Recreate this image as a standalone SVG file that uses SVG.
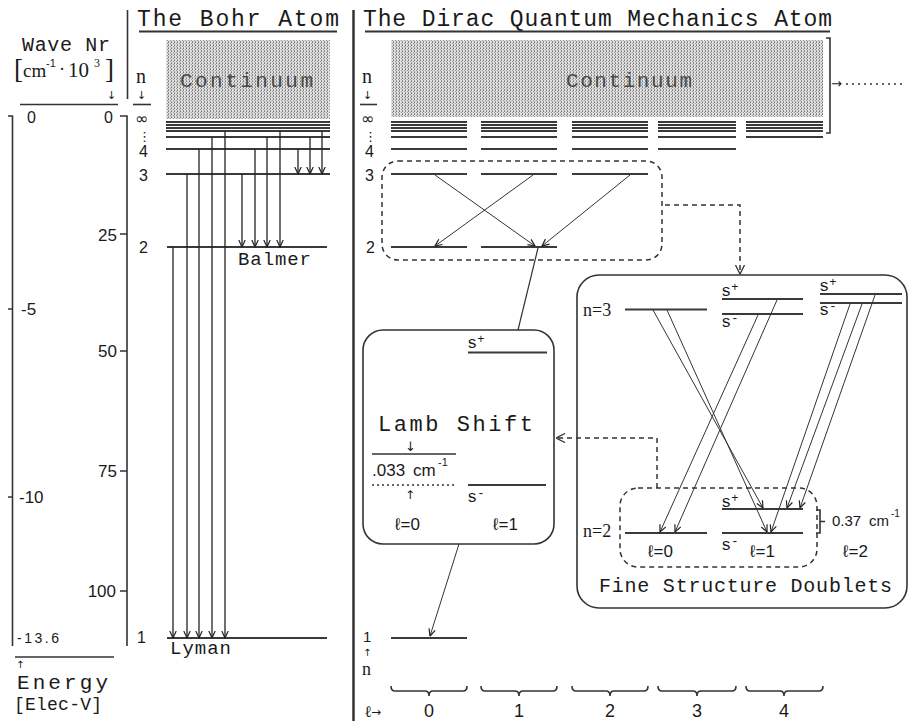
<svg xmlns="http://www.w3.org/2000/svg" width="910" height="721" viewBox="0 0 910 721">
<style>
.mono{font-family:"Liberation Mono","DejaVu Sans Mono",monospace;fill:#1a1a1a}
.sans{font-family:"Liberation Sans",Arial,sans-serif;fill:#1a1a1a}
.serif{font-family:"Liberation Serif","DejaVu Serif",serif;fill:#1a1a1a}
.sym{font-family:"DejaVu Sans","Liberation Sans",sans-serif;fill:#1a1a1a}
.ax{fill:none;stroke:#333;stroke-width:1.6}
.lv{stroke:#3a3a3a;stroke-width:2;fill:none}
.tr{stroke:#222;stroke-width:1.3;fill:none;marker-end:url(#ah)}
.tr2{stroke:#333;stroke-width:1;fill:none;marker-end:url(#ah)}
.box{fill:none;stroke:#333;stroke-width:1.6}
.dbox{fill:none;stroke:#333;stroke-width:1.5;stroke-dasharray:5 4}
.dcon{fill:none;stroke:#333;stroke-width:1.5;stroke-dasharray:5 4;marker-end:url(#ahd)}
.cont{fill:url(#dots)}
.ctext{font-family:"Liberation Mono","DejaVu Sans Mono",monospace;fill:#4a4a4a}
</style>
<defs>
<pattern id="dots" width="3" height="3" patternUnits="userSpaceOnUse">
<rect width="3" height="3" fill="#dedede"/>
<rect width="1" height="1" fill="#777"/>
<rect x="0" y="2" width="1" height="1" fill="#999"/>
<rect x="2" y="1" width="1" height="1" fill="#999"/>
</pattern>
<marker id="ah" markerUnits="userSpaceOnUse" markerWidth="8" markerHeight="8" viewBox="0 0 8 8" refX="7.5" refY="4" orient="auto">
<path d="M0.5,0.8 L7.5,4 L0.5,7.2" fill="none" stroke="#222" stroke-width="1.2"/>
</marker>
<marker id="ahd" markerUnits="userSpaceOnUse" markerWidth="10" markerHeight="10" viewBox="0 0 10 10" refX="9.5" refY="5" orient="auto">
<path d="M0.5,0.5 L9.5,5 L0.5,9.5" fill="none" stroke="#333" stroke-width="1.3"/>
</marker>
</defs>
<rect width="910" height="721" fill="#fff"/>

<g id="dividers">
<path class="ax" d="M127.5,10 V99"/>
<path d="M353.5,10 V721" stroke="#333" stroke-width="2.5"/>
</g>

<g id="title-bohr">
<text class="mono" x="137" y="26" font-size="23" textLength="202" lengthAdjust="spacing">The Bohr Atom</text>
<path d="M139,31.5 H337" stroke="#333" stroke-width="2"/>
</g>
<g id="title-dirac">
<text class="mono" x="363" y="26" font-size="23" textLength="469" lengthAdjust="spacing">The Dirac Quantum Mechanics Atom</text>
<path d="M365,31.5 H830" stroke="#333" stroke-width="2"/>
</g>

<g id="axis-wave">
<text class="mono" x="22" y="51" font-size="20" textLength="88" lengthAdjust="spacing">Wave Nr</text>
<text class="serif" y="78" font-size="19"><tspan x="14" font-size="27">[</tspan><tspan x="23" y="77">cm</tspan><tspan x="46" y="67" font-size="11" class="sans">-1</tspan><tspan x="59" y="75" font-size="18">·</tspan><tspan x="68" y="77" font-size="21">10</tspan><tspan x="94" y="67" font-size="12">3</tspan><tspan x="105" y="78" font-size="27">]</tspan></text>
<text class="sym" x="107" y="99" font-size="11">↓</text>
<path d="M20,104.5 H118" stroke="#333" stroke-width="1.6"/>
<text class="sans" x="113" y="123" font-size="16" text-anchor="end">0</text>
<path class="ax" d="M120,116 H127 V646"/>
<path class="ax" d="M120,234 H127 M120,351 H127 M120,471 H127 M120,591 H127"/>
<text class="sans" x="117" y="241" font-size="17" text-anchor="end">25</text>
<text class="sans" x="117" y="357" font-size="17" text-anchor="end">50</text>
<text class="sans" x="117" y="477" font-size="17" text-anchor="end">75</text>
<text class="sans" x="116" y="597" font-size="17" text-anchor="end">100</text>
</g>
<g id="axis-energy">
<text class="sans" x="27" y="123" font-size="16">0</text>
<path class="ax" d="M8,116 H12.5 V646"/>
<path class="ax" d="M8,309 H12.5 M8,497 H12.5"/>
<text class="sans" x="21" y="315" font-size="17">-5</text>
<text class="sans" x="19" y="503" font-size="17">-10</text>
<text class="sans" x="17" y="643" font-size="14" textLength="42" lengthAdjust="spacing">-13.6</text>
<path d="M15,657 H114" stroke="#333" stroke-width="1.6"/>
<text class="sym" x="16" y="668" font-size="10">↑</text>
<text class="mono" x="17" y="689" font-size="21" textLength="91" lengthAdjust="spacing">Energy</text>
<text class="mono" x="14" y="710" font-size="18" textLength="88" lengthAdjust="spacing">[Elec-V]</text>
</g>

<g id="bohr-continuum">
<rect class="cont" x="166" y="40" width="164" height="79"/>
<text class="ctext" x="180" y="87" font-size="21" textLength="133" lengthAdjust="spacing">Continuum</text>
</g>
<g id="bohr-levels">
<text class="serif" x="136" y="83" font-size="20">n</text>
<text class="sym" x="137" y="99" font-size="11">↓</text>
<path d="M133,104.5 H151" stroke="#333" stroke-width="1.6"/>
<text class="sym" x="135" y="124" font-size="16">∞</text>
<text class="sym" x="138" y="141" font-size="13">⋮</text>
<text class="sans" x="139" y="157" font-size="16">4</text>
<text class="sans" x="139" y="181" font-size="16">3</text>
<text class="sans" x="139" y="253" font-size="16">2</text>
<text class="sans" x="137" y="643" font-size="16">1</text>
<path class="lv" d="M166,122 H330 M166,125 H330 M166,128 H330 M166,131 H330 M166,137 H330 M166,149 H330 M166,174 H330 M167,247 H327 M167,638 H327"/>
<text class="mono" x="238" y="265" font-size="19" textLength="73" lengthAdjust="spacing">Balmer</text>
<text class="mono" x="170" y="654" font-size="19" textLength="61" lengthAdjust="spacing">Lyman</text>
</g>

<g id="dirac-continuum">
<rect class="cont" x="391" y="40" width="432" height="77"/>
<text class="ctext" x="566" y="87" font-size="21" textLength="126" lengthAdjust="spacing">Continuum</text>
<path class="ax" d="M826,38 H830 V133 H826"/>
<text class="sym" x="831" y="88" font-size="13">→</text>
<path d="M846,84 H906" stroke="#333" stroke-width="1.5" stroke-dasharray="2 4"/>
</g>
<g id="dirac-levels">
<text class="serif" x="362" y="83" font-size="20">n</text>
<text class="sym" x="363" y="99" font-size="11">↓</text>
<path d="M360,104.5 H377" stroke="#333" stroke-width="1.6"/>
<text class="sym" x="361" y="124" font-size="16">∞</text>
<text class="sym" x="364" y="141" font-size="13">⋮</text>
<text class="sans" x="365" y="157" font-size="16">4</text>
<text class="sans" x="365" y="181" font-size="16">3</text>
<text class="sans" x="366" y="253" font-size="16">2</text>
<text class="sans" x="363" y="642" font-size="15">1</text>
<text class="sym" x="363" y="656" font-size="10">↑</text>
<text class="serif" x="362" y="675" font-size="18">n</text>
<path class="lv" d="M391,122 H467 M481,122 H557 M572,122 H648 M658,122 H736 M746,122 H823
M391,125 H467 M481,125 H557 M572,125 H648 M658,125 H736 M746,125 H823
M391,128 H467 M481,128 H557 M572,128 H648 M658,128 H736 M746,128 H823
M391,131 H467 M481,131 H557 M572,131 H648 M658,131 H736 M746,131 H823
M391,137 H467 M481,137 H557 M572,137 H648 M658,137 H736 M746,137 H823
M391,149 H467 M481,149 H557 M572,149 H648 M658,149 H736
M391,174 H467 M481,174 H557 M572,174 H648
M391,247 H467 M481,247 H557
M391,638 H467"/>
</g>
<g id="box-n3-n2">
<rect class="dbox" x="382" y="161" width="280" height="99" rx="16"/>
</g>
<g id="l-axis">
<path class="ax" d="M391,686 Q391,691 395,691 H425 Q429,691 429,696 Q429,691 433,691 H463 Q467,691 467,686
M481,686 Q481,691 485,691 H515 Q519,691 519,696 Q519,691 523,691 H553 Q557,691 557,686
M572,686 Q572,691 576,691 H606 Q610,691 610,696 Q610,691 614,691 H644 Q648,691 648,686
M658,686 Q658,691 662,691 H693 Q697,691 697,696 Q697,691 701,691 H732 Q736,691 736,686
M746,686 Q746,691 750,691 H780 Q784,691 784,696 Q784,691 788,691 H819 Q823,691 823,686"/>
<text class="serif" x="364" y="717" font-size="16">ℓ<tspan class="sym" x="371" y="716" font-size="12">→</tspan></text>
<text class="sans" x="429" y="717" font-size="18" text-anchor="middle">0</text>
<text class="sans" x="519" y="717" font-size="18" text-anchor="middle">1</text>
<text class="sans" x="610" y="717" font-size="18" text-anchor="middle">2</text>
<text class="sans" x="697" y="717" font-size="18" text-anchor="middle">3</text>
<text class="sans" x="784" y="717" font-size="18" text-anchor="middle">4</text>
</g>

<g id="lamb-box">
<rect class="box" x="363" y="330" width="191" height="214" rx="20"/>
<text class="mono" x="467" y="348" font-size="17">s<tspan font-size="12" dy="-5">+</tspan></text>
<path class="lv" d="M468,352.5 H547"/>
<text class="mono" x="378" y="431" font-size="22" textLength="155" lengthAdjust="spacing">Lamb Shift</text>
<text class="sym" x="405" y="451" font-size="13">↓</text>
<path d="M372,454 H456" stroke="#333" stroke-width="1.6"/>
<text class="sans" x="372" y="476" font-size="17">.033<tspan x="413">cm</tspan><tspan x="438" y="466" font-size="11">-1</tspan></text>
<path d="M372,485 H455" stroke="#333" stroke-width="1.4" stroke-dasharray="2 3"/>
<text class="sym" x="405" y="499" font-size="12">↑</text>
<path class="lv" d="M468,485 H546"/>
<text class="mono" x="467" y="502" font-size="17">s<tspan font-size="12" dy="-5">-</tspan></text>
<text class="sans" x="395" y="530" font-size="17">ℓ=0</text>
<text class="sans" x="493" y="530" font-size="17">ℓ=1</text>
</g>

<g id="fs-box">
<rect class="box" x="577" y="275" width="330" height="333" rx="22"/>
<text class="serif" x="583" y="316" font-size="18">n=3</text>
<path class="lv" d="M625,309.5 H707 M722,299 H803 M722,314 H803 M820,294 H902 M820,303 H902"/>
<text class="mono" x="721" y="296" font-size="17">s<tspan font-size="12" dy="-5">+</tspan></text>
<text class="mono" x="721" y="327" font-size="17">s<tspan font-size="12" dy="-5">-</tspan></text>
<text class="mono" x="819" y="291" font-size="17">s<tspan font-size="12" dy="-5">+</tspan></text>
<text class="mono" x="819" y="315" font-size="17">s<tspan font-size="12" dy="-5">-</tspan></text>
<text class="serif" x="583" y="537" font-size="18">n=2</text>
<path class="lv" d="M625,533 H707 M722,509 H803 M722,533 H803"/>
<text class="mono" x="721" y="507" font-size="17">s<tspan font-size="12" dy="-5">+</tspan></text>
<text class="mono" x="721" y="550" font-size="17">s<tspan font-size="12" dy="-5">-</tspan></text>
<text class="sans" x="648" y="557" font-size="17">ℓ=0</text>
<text class="sans" x="750" y="557" font-size="17">ℓ=1</text>
<text class="sans" x="843" y="557" font-size="17">ℓ=2</text>
<path class="ax" d="M816,510 H820 V533 H816 M820,521.5 H825"/>
<text class="sans" x="832" y="526" font-size="15">0.37<tspan x="869">cm</tspan><tspan x="891" y="517" font-size="10">-1</tspan></text>
<rect class="dbox" x="620" y="488" width="197" height="79" rx="18"/>
<text class="mono" x="599" y="592" font-size="20" textLength="293" lengthAdjust="spacing">Fine Structure Doublets</text>
</g>

<g id="connectors">
<path class="tr" d="M173,247 V638"/>
<path class="tr" d="M187,174 V638"/>
<path class="tr" d="M199,149 V638"/>
<path class="tr" d="M212,137 V638"/>
<path class="tr" d="M225,131 V638"/>
<path class="tr" d="M242,174 V247"/>
<path class="tr" d="M255,149 V247"/>
<path class="tr" d="M267,137 V247"/>
<path class="tr" d="M280,131 V247"/>
<path class="tr" d="M298,149 V174"/>
<path class="tr" d="M310,137 V174"/>
<path class="tr" d="M322,131 V174"/>
<path class="tr2" d="M435,175 L535,246"/>
<path class="tr2" d="M533,175 L435,246"/>
<path class="tr2" d="M630,175 L542,246"/>
<path d="M538,248 L518,330" stroke="#333" stroke-width="1.2" fill="none"/>
<path class="tr2" d="M459,544 L430,636"/>
<path class="tr2" d="M653,310 L763,508"/>
<path class="tr2" d="M667,310 L767,532"/>
<path class="tr2" d="M758,315 L660,532"/>
<path class="tr2" d="M777,300 L675,532"/>
<path class="tr2" d="M875,295 L800,508"/>
<path class="tr2" d="M862,304 L787,508"/>
<path class="tr2" d="M850,304 L771,532"/>
<path class="dcon" d="M665,205 H740 V274"/>
<path class="dcon" d="M657,488 V438 H556"/>
</g>
</svg>
